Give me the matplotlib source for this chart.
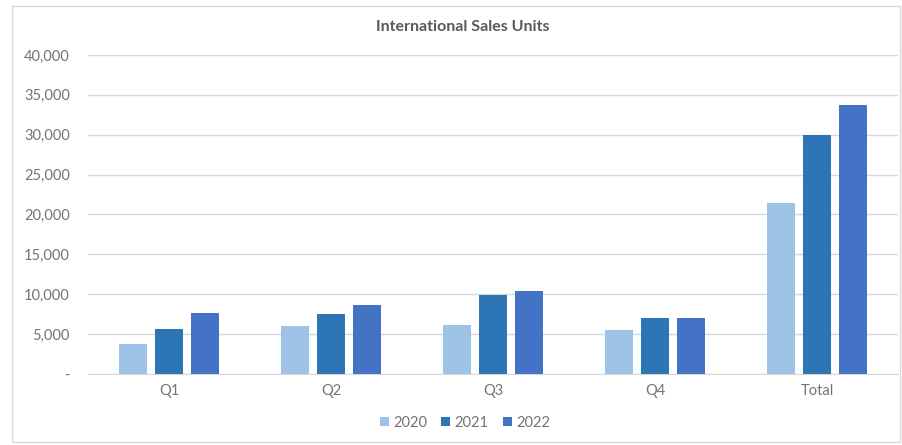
import numpy as np
import matplotlib
matplotlib.use("Agg")
import matplotlib.pyplot as plt
from matplotlib.ticker import FuncFormatter
from matplotlib.patches import Rectangle

# chart data
categories = ["Q1", "Q2", "Q3", "Q4", "Total"]
years = ["2020", "2021", "2022"]
sales_2020 = [3700, 6000, 6100, 5500, 21400]
sales_2021 = [5700, 7500, 9900, 7000, 30000]
sales_2022 = [7700, 8650, 10450, 7000, 33700]
colors = ["#9DC3E6", "#2E75B6", "#4472C4"]

plt.rcParams["font.family"] = ["Lato", "DejaVu Sans"]

fig = plt.figure(figsize=(9.03, 4.45), dpi=100)
ax = fig.add_axes([88 / 903, 1 - 374 / 445, 810 / 903, 319 / 445])

x = np.arange(len(categories))
width = 0.173
step = 0.222
for i, (vals, yr) in enumerate(zip([sales_2020, sales_2021, sales_2022], years)):
    ax.bar(x + (i - 1) * step, vals, width, color=colors[i], label=yr, zorder=3)

ax.set_xlim(-0.5, len(categories) - 0.5)
ax.set_ylim(0, 40000)
ax.set_yticks(np.arange(0, 40001, 5000))
ax.yaxis.set_major_formatter(FuncFormatter(lambda v, p: "-" if v == 0 else f"{int(v):,}"))
ax.set_xticks(x)
ax.set_xticklabels(categories)
ax.grid(axis="y", color="#D9D9D9", linewidth=1, zorder=0)
for s in ["top", "right", "left"]:
    ax.spines[s].set_visible(False)
ax.spines["bottom"].set_color("#D9D9D9")
ax.tick_params(axis="both", length=0, colors="#737373", labelsize=10.5)
ax.tick_params(axis="y", pad=13)
ax.tick_params(axis="x", pad=7)

fig.text(0.512, 1 - 27 / 445, "International Sales Units", ha="center", va="center",
         fontsize=11.5, fontweight="bold", color="#595959")

fig.legend(loc="center", bbox_to_anchor=(0.515, 1 - 423 / 445), ncol=3, frameon=False,
           fontsize=10.5, handlelength=0.6, handleheight=0.6, handletextpad=0.3,
           columnspacing=1.0, labelcolor="#737373")

# chart area border
fig.patches.append(Rectangle((12 / 903, 1 - 442 / 445), 888 / 903, 436 / 445,
                             transform=fig.transFigure, fill=False,
                             edgecolor="#D9D9D9", linewidth=1))

fig.savefig("out.png", dpi=100, facecolor="white")
